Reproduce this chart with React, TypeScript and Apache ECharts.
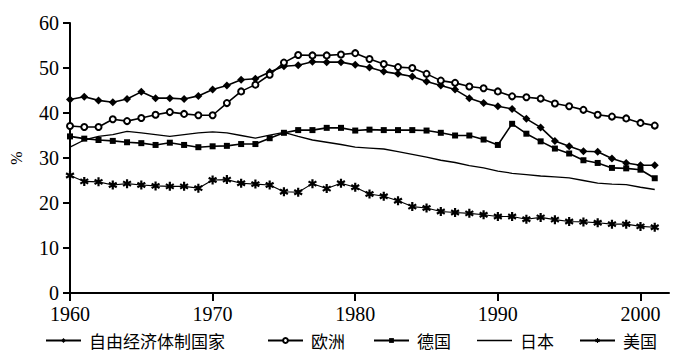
import React, { useEffect, useRef } from "react";
import * as echarts from "echarts";

const years = [
  1960, 1961, 1962, 1963, 1964, 1965, 1966, 1967, 1968, 1969,
  1970, 1971, 1972, 1973, 1974, 1975, 1976, 1977, 1978, 1979,
  1980, 1981, 1982, 1983, 1984, 1985, 1986, 1987, 1988, 1989,
  1990, 1991, 1992, 1993, 1994, 1995, 1996, 1997, 1998, 1999,
  2000, 2001,
];

const tickYears = [1960, 1970, 1980, 1990, 2000];

const freeEconomies = [
  43.0, 43.6, 42.8, 42.4, 43.1, 44.7, 43.3, 43.3, 43.1, 43.8,
  45.2, 46.1, 47.4, 47.6, 49.1, 50.4, 50.6, 51.4, 51.3, 51.3,
  50.7, 50.1, 49.2, 48.7, 48.1, 47.0, 46.1, 45.2, 43.3, 42.2,
  41.5, 40.9, 38.7, 36.8, 33.8, 32.6, 31.5, 31.4, 29.9, 28.9,
  28.4, 28.4,
];

const europe = [
  37.1, 36.9, 36.9, 38.6, 38.2, 38.9, 39.6, 40.2, 39.8, 39.5,
  39.5, 42.2, 44.8, 46.3, 48.5, 51.2, 52.9, 52.8, 52.8, 53.0,
  53.3, 52.0, 50.9, 50.2, 50.0, 48.7, 47.2, 46.7, 45.9, 45.5,
  44.8, 43.7, 43.5, 43.2, 42.1, 41.5, 40.7, 39.6, 39.2, 38.8,
  37.8, 37.2,
];

const germany = [
  34.8, 34.3, 34.0, 33.8, 33.5, 33.3, 32.9, 33.4, 32.9, 32.4,
  32.6, 32.7, 33.1, 33.1, 34.4, 35.6, 36.2, 36.2, 36.7, 36.7,
  36.1, 36.3, 36.2, 36.2, 36.2, 36.1, 35.6, 35.0, 35.0, 34.1,
  32.9, 37.6, 35.4, 33.7, 32.1, 31.0, 29.5, 28.9, 27.8, 27.7,
  27.4, 25.5,
];

const japan = [
  32.4, 34.0, 34.8, 35.2, 35.9, 35.6, 35.2, 34.8, 35.2, 35.6,
  35.8, 35.6, 35.0, 34.4, 35.1, 35.7, 34.8, 34.0, 33.5, 33.0,
  32.4, 32.2, 32.0, 31.4, 30.8, 30.2, 29.5, 29.0, 28.3, 27.8,
  27.1, 26.6, 26.3, 26.0, 25.8, 25.6, 25.0, 24.4, 24.2, 24.1,
  23.5, 23.0,
];

const usa = [
  26.1, 24.8, 24.7, 24.0, 24.3, 24.0, 23.8, 23.7, 23.7, 23.3,
  25.1, 25.2, 24.4, 24.2, 24.0, 22.5, 22.4, 24.3, 23.2, 24.4,
  23.5, 22.0, 21.5, 20.5, 19.2, 18.9, 18.1, 17.9, 17.7, 17.4,
  17.0, 17.0, 16.4, 16.8, 16.3, 15.9, 15.8, 15.6, 15.3, 15.3,
  14.8, 14.6,
];

const seriesNames = ["自由经济体制国家", "欧洲", "德国", "日本", "美国"];

function asteriskPath(): string {
  const c = 5;
  const half = 5;
  const t = 1.2;
  const angles = [90, 30, 150];
  let d = "";
  for (const a of angles) {
    const r = (a * Math.PI) / 180;
    const dx = Math.cos(r), dy = Math.sin(r);
    const px = -dy, py = dx;
    const pts = [
      [c + half * dx + t * px, c + half * dy + t * py],
      [c - half * dx + t * px, c - half * dy + t * py],
      [c - half * dx - t * px, c - half * dy - t * py],
      [c + half * dx - t * px, c + half * dy - t * py],
    ];
    d += "M" + pts.map((p) => p[0].toFixed(2) + " " + p[1].toFixed(2)).join(" L") + " Z ";
  }
  return "path://" + d.trim();
}

const toPairs = (vals: number[]) => years.map((y, i) => [y, vals[i]]);

export default function App() {
  const ref = useRef<HTMLDivElement>(null);

  useEffect(() => {
    document.body.style.margin = "0";
    if (!ref.current) return;
    const chart = echarts.init(ref.current, undefined, { renderer: "svg" });

    const serif = "Liberation Serif";
    const cjk = "Noto Sans CJK SC";
    const black = "#000";

    const legendLefts = [45, 267, 373, 477, 579];
    const legends = seriesNames.map((name, i) => {
      const isPlain = name === "日本";
      return {
        left: legendLefts[i],
        top: 332,
        orient: "horizontal",
        data: isPlain ? [{ name, icon: "rect" }] : [name],
        selectedMode: false,
        itemWidth: 35,
        itemHeight: isPlain ? 1.4 : 6,
        padding: 0,
        textStyle: { fontFamily: cjk, fontSize: 17, color: black, padding: [0, 0, 0, 3] },
      };
    });

    const option: any = {
      animation: false,
      backgroundColor: "#fff",
      grid: { left: 62, right: 17, top: 23, bottom: 66 },
      legend: legends,
      xAxis: {
        type: "value",
        min: 1960,
        max: 2002,
        interval: 10,
        axisLine: { show: true, lineStyle: { color: black, width: 2 } },
        axisTick: {
          show: true,
          length: 8,
          customValues: tickYears,
          lineStyle: { color: black, width: 2 },
        },
        axisLabel: {
          customValues: tickYears,
          formatter: (v: number) => String(v),
          fontFamily: serif,
          fontSize: 20,
          color: black,
          margin: 11,
        },
        splitLine: { show: false },
      },
      yAxis: {
        type: "value",
        min: 0,
        max: 60,
        interval: 10,
        name: "%",
        nameLocation: "middle",
        nameGap: 46,
        nameRotate: 90,
        nameTextStyle: { fontFamily: serif, fontSize: 16, color: black },
        axisLine: { show: true, lineStyle: { color: black, width: 2 } },
        axisTick: { show: true, length: 7, lineStyle: { color: black, width: 2 } },
        axisLabel: { fontFamily: serif, fontSize: 20, color: black, margin: 11 },
        splitLine: { show: false },
      },
      series: [
        {
          name: seriesNames[0],
          type: "line",
          data: toPairs(freeEconomies),
          symbol: "diamond",
          symbolSize: 8,
          lineStyle: { color: black, width: 1.6 },
          itemStyle: { color: black },
          z: 3,
        },
        {
          name: seriesNames[1],
          type: "line",
          data: toPairs(europe),
          symbol: "emptyCircle",
          symbolSize: 6,
          lineStyle: { color: black, width: 1.6 },
          itemStyle: { color: black, borderColor: black, borderWidth: 1.4 },
          z: 4,
        },
        {
          name: seriesNames[2],
          type: "line",
          data: toPairs(germany),
          symbol: "rect",
          symbolSize: 6,
          lineStyle: { color: black, width: 1.6 },
          itemStyle: { color: black },
          z: 3,
        },
        {
          name: seriesNames[3],
          type: "line",
          data: toPairs(japan),
          symbol: "none",
          showSymbol: false,
          lineStyle: { color: black, width: 1.3 },
          itemStyle: { color: black },
          z: 2,
        },
        {
          name: seriesNames[4],
          type: "line",
          data: toPairs(usa),
          symbol: asteriskPath(),
          symbolSize: 9,
          lineStyle: { color: black, width: 1.1 },
          itemStyle: { color: black },
          z: 3,
        },
      ],
    };

    chart.setOption(option);
    return () => chart.dispose();
  }, []);

  return <div ref={ref} style={{ width: 686, height: 359 }} />;
}
